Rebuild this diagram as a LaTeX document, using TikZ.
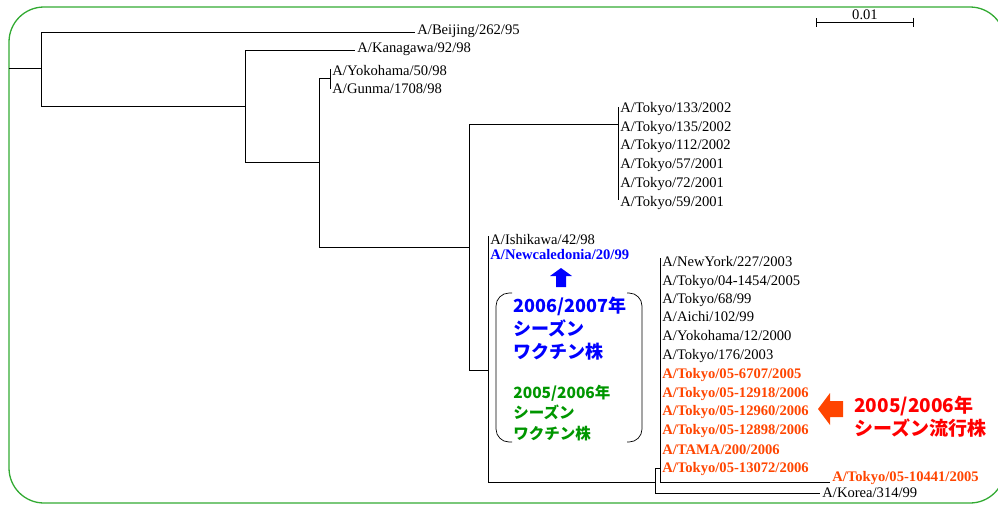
\documentclass[tikz,border=0pt]{standalone}
\usepackage{fontspec}
\setmainfont{Liberation Serif}
\newfontfamily\jpfont{Noto Sans CJK JP}
\usepackage{xcolor}
\usepackage{tikz}
\usetikzlibrary{arrows.meta}
\definecolor{framegreen}{RGB}{50,170,50}
\definecolor{strainred}{RGB}{255,69,0}
\definecolor{vacblue}{RGB}{0,0,255}
\definecolor{vacgreen}{RGB}{0,150,0}
\definecolor{epired}{RGB}{255,0,0}
\tikzset{
  leaf/.style={anchor=west, inner sep=2pt, font=\fontsize{14.6}{16}\selectfont,
    text height=0.68em, text depth=0.2em},
  hot/.style={leaf, text=strainred, font=\fontsize{14.6}{16}\selectfont\bfseries},
  jpline/.style={anchor=base west, inner sep=0pt},
}

\begin{document}
\begin{tikzpicture}[x=1pt, y=-1pt, line width=0.8pt]
  \useasboundingbox (0,0) rectangle (998,504);
  \draw[framegreen, line width=1.3pt, rounded corners=35pt] (9,7) rectangle (1005,503);
  % internal nodes
  \coordinate (root) at (9,68);
  \coordinate (n1) at (41,68);
  \coordinate (n2) at (245,106);
  \coordinate (n3) at (319,162);
  \coordinate (n4) at (330,78);
  \coordinate (n5) at (469,247);
  \coordinate (n6) at (618,124);
  \coordinate (n7) at (488,370);
  \coordinate (n8) at (655,482);
  \coordinate (n9) at (660,468);
  % leaves
  \node[leaf] (beijing) at (415,32) {A/Beijing/262/95};
  \node[leaf] (kanagawa) at (355,50) {A/Kanagawa/92/98};
  \node[leaf] (yoko50) at (330,73) {A/Yokohama/50/98};
  \node[leaf] (gunma) at (330,91) {A/Gunma/1708/98};
  \node[leaf] (tk133) at (618,110) {A/Tokyo/133/2002};
  \node[leaf] (tk135) at (618,129) {A/Tokyo/135/2002};
  \node[leaf] (tk112) at (618,147) {A/Tokyo/112/2002};
  \node[leaf] (tk57) at (618,166) {A/Tokyo/57/2001};
  \node[leaf] (tk72) at (618,185) {A/Tokyo/72/2001};
  \node[leaf] (tk59) at (618,204) {A/Tokyo/59/2001};
  \node[leaf] (ishikawa) at (488,242) {A/Ishikawa/42/98};
  \node[leaf, text=vacblue, font=\fontsize{14.6}{16}\selectfont\bfseries] (newcal) at (488,257) {A/Newcaledonia/20/99};
  \node[leaf] (newyork) at (660,264) {A/NewYork/227/2003};
  \node[leaf] (tk1454) at (660,283) {A/Tokyo/04-1454/2005};
  \node[leaf] (tk68) at (660,301) {A/Tokyo/68/99};
  \node[leaf] (aichi) at (660,319) {A/Aichi/102/99};
  \node[leaf] (yoko12) at (660,338) {A/Yokohama/12/2000};
  \node[leaf] (tk176) at (660,357) {A/Tokyo/176/2003};
  \node[hot] (tk6707) at (660,376) {A/Tokyo/05-6707/2005};
  \node[hot] (tk12918) at (660,395) {A/Tokyo/05-12918/2006};
  \node[hot] (tk12960) at (660,413) {A/Tokyo/05-12960/2006};
  \node[hot] (tk12898) at (660,432) {A/Tokyo/05-12898/2006};
  \node[hot] (tama) at (660,452) {A/TAMA/200/2006};
  \node[hot] (tk13072) at (660,470) {A/Tokyo/05-13072/2006};
  \node[hot] (tk10441) at (830,479) {A/Tokyo/05-10441/2005};
  \node[leaf] (korea) at (820,495) {A/Korea/314/99};
  % branches
  \draw (root) -- (n1);
  \draw (n1) |- (beijing.west);
  \draw (n1) |- (n2);
  \draw (n2) |- (kanagawa.west);
  \draw (n2) |- (n3);
  \draw (n3) |- (n4);
  \draw (n3) |- (n5);
  \draw ([yshift=4pt]yoko50.west) -- ([yshift=2pt]gunma.west);
  \draw (n5) |- (n6);
  \draw (n5) |- (n7);
  \draw ([yshift=3pt]tk133.west) -- ([yshift=4pt]tk59.west);
  \draw ([yshift=6pt]ishikawa.west) |- (n8);
  \draw (n8) |- (n9);
  \draw (n8) |- ([yshift=2pt]korea.west);
  \draw ([yshift=6pt]newyork.west) |- ([yshift=-3pt]tk10441.west);
  % scale bar
  \coordinate (sbl) at (816,22);
  \coordinate (sbr) at (914,22);
  \draw[line width=0.7pt, {Bar[width=9pt]}-{Bar[width=9pt]}] (sbl) -- (sbr)
    node[midway, above=-1pt, font=\fontsize{14.6}{16}\selectfont] (sblabel) {0.01};
  % vaccine strain note
  \fill[vacblue] (556,287) -- (556,276) -- (550,276) -- (561,268) -- (572,276) -- (566,276) -- (566,287) -- cycle;
  \draw[line width=0.7pt, rounded corners=13pt] (512,293) -- (496,293) -- (496,442) -- (512,442);
  \draw[line width=0.7pt, rounded corners=13pt] (627,293) -- (642,293) -- (642,442) -- (627,442);
  \node[jpline, text=vacblue, font=\jpfont\bfseries\fontsize{18}{22}\selectfont] (vb1) at (513,312) {2006/2007年};
  \node[jpline, text=vacblue, font=\jpfont\bfseries\fontsize{18}{22}\selectfont] (vb2) at (513,335) {シーズン};
  \node[jpline, text=vacblue, font=\jpfont\bfseries\fontsize{18}{22}\selectfont] (vb3) at (513,358) {ワクチン株};
  \node[jpline, text=vacgreen, font=\jpfont\bfseries\fontsize{15.5}{18}\selectfont] (vg1) at (513,398) {2005/2006年};
  \node[jpline, text=vacgreen, font=\jpfont\bfseries\fontsize{15.5}{18}\selectfont] (vg2) at (513,418) {シーズン};
  \node[jpline, text=vacgreen, font=\jpfont\bfseries\fontsize{15.5}{18}\selectfont] (vg3) at (513,439) {ワクチン株};
  % epidemic strain note
  \fill[strainred] (843,401) -- (830,401) -- (830,393) -- (818,409) -- (830,425) -- (830,417) -- (843,417) -- cycle;
  \node[jpline, text=epired, font=\jpfont\bfseries\fontsize{19}{22}\selectfont] (ep1) at (854,412) {2005/2006年};
  \node[jpline, text=epired, font=\jpfont\bfseries\fontsize{19}{22}\selectfont] (ep2) at (854,435) {シーズン流行株};
\end{tikzpicture}
\end{document}
